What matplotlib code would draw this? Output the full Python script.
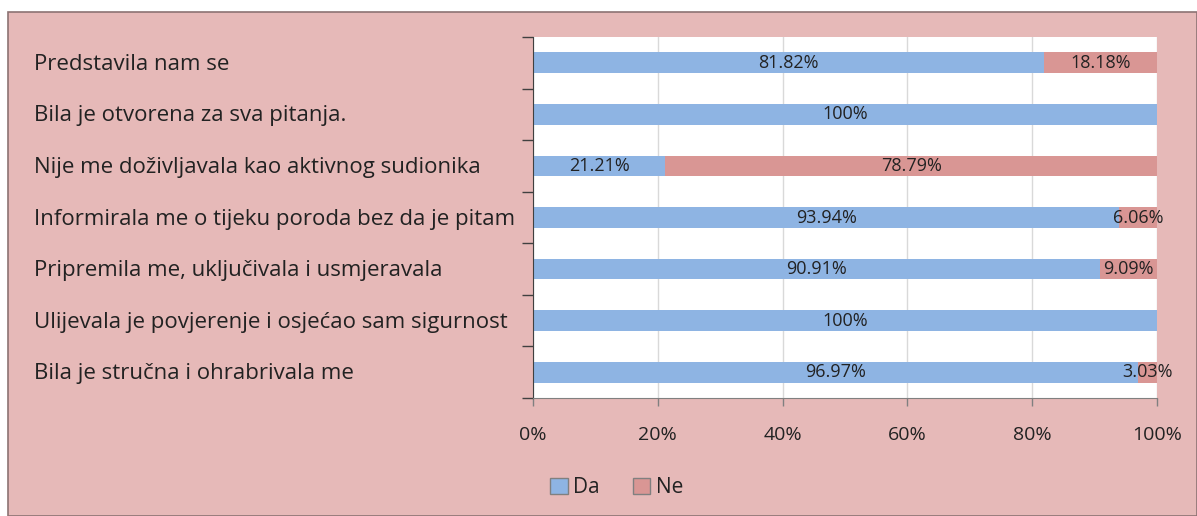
import matplotlib.pyplot as plt
from matplotlib.patches import Rectangle
from matplotlib.transforms import blended_transform_factory
import numpy as np

categories = [
    "Predstavila nam se",
    "Bila je otvorena za sva pitanja.",
    "Nije me doživljavala kao aktivnog sudionika",
    "Informirala me o tijeku poroda bez da je pitam",
    "Pripremila me, uključivala i usmjeravala",
    "Ulijevala je povjerenje i osjećao sam sigurnost",
    "Bila je stručna i ohrabrivala me",
]
da = [81.82, 100, 21.21, 93.94, 90.91, 100, 96.97]
ne = [18.18, 0, 78.79, 6.06, 9.09, 0, 3.03]
x_ticks = [0, 20, 40, 60, 80, 100]

blue = "#8EB4E3"
red = "#D99694"
bg = "#E6B9B8"
txt = "#222222"

plt.rcParams['font.family'] = ['Open Sans', 'DejaVu Sans']

fig = plt.figure(figsize=(11.97, 5.16), dpi=100)
fig.patch.set_facecolor("white")
fig.patches.append(Rectangle((8 / 1197, 0), 1 - 8 / 1197, 1 - 12 / 516,
                             transform=fig.transFigure, facecolor=bg,
                             edgecolor="#8c7373", linewidth=1.2, zorder=-5))

ax = fig.add_axes([533 / 1197, 1 - 398 / 516, 624 / 1197, 361 / 516])
ax.set_facecolor("white")

y = np.arange(len(categories))
h = 0.4
ax.barh(y, da, height=h, color=blue, label="Da", zorder=2)
ax.barh(y, ne, left=da, height=h, color=red, label="Ne", zorder=2)

for i in range(len(categories)):
    ax.text(da[i] / 2, y[i], f"{da[i]:g}%", ha="center", va="center",
            fontsize=13, color=txt, zorder=3)
    if ne[i] > 0:
        ax.text(da[i] + ne[i] / 2, y[i], f"{ne[i]:g}%", ha="center", va="center",
                fontsize=13, color=txt, zorder=3)

ax.set_xlim(0, 100)
ax.set_ylim(len(categories) - 0.5, -0.5)
ax.set_xticks(x_ticks)
ax.set_xticklabels([f"{t}%" for t in x_ticks], fontsize=14, color=txt)
ax.xaxis.grid(True, color="#d9d9d9", linewidth=1, zorder=1)
ax.set_axisbelow(True)

ax.set_yticks([])
ax.set_yticks(np.arange(len(categories) + 1) - 0.5, minor=True)
ax.tick_params(axis="y", which="minor", length=8, width=1, color="#404040")
ax.tick_params(axis="x", length=6, width=1, color="#808080", pad=14)

lab_tr = blended_transform_factory(fig.transFigure, ax.transData)
for i, c in enumerate(categories):
    ax.text(34 / 1197, y[i] + 0.03, c, transform=lab_tr, clip_on=False,
            ha="left", va="center", fontsize=16, color=txt)

for s in ["top", "right"]:
    ax.spines[s].set_visible(False)
ax.spines["left"].set_color("#404040")
ax.spines["bottom"].set_color("#808080")

fig.legend(loc="center", bbox_to_anchor=(0.515, 0.055), ncol=2, frameon=False,
           fontsize=15, handlelength=0.85, handleheight=0.85, columnspacing=1.6,
           handletextpad=0.25)
for t in fig.legends[0].get_texts():
    t.set_color(txt)
for p in fig.legends[0].get_patches():
    p.set_edgecolor("#808080")

fig.savefig("out.png", dpi=100, facecolor=fig.get_facecolor())
